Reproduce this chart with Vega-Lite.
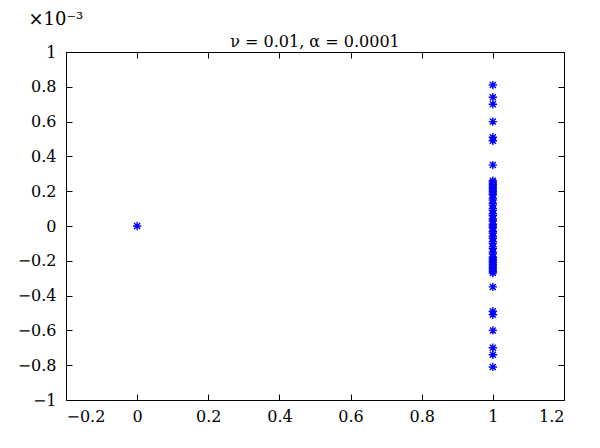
{
  "$schema": "https://vega.github.io/schema/vega-lite/v6.json",
  "width": 498,
  "height": 348,
  "autosize": "none",
  "padding": {"left": 66, "top": 52, "right": 36, "bottom": 48},
  "background": "white",
  "config": {
    "view": {"stroke": "black", "strokeWidth": 1},
    "font": "DejaVu Serif",
    "axis": {
      "grid": false,
      "domain": false,
      "tickColor": "black",
      "tickSize": -6,
      "tickWidth": 1,
      "labelFont": "DejaVu Serif",
      "labelFontSize": 16,
      "labelColor": "black"
    }
  },
  "title": {
    "text": "ν = 0.01, α = 0.0001",
    "font": "DejaVu Serif",
    "fontSize": 16,
    "fontWeight": "normal",
    "color": "black",
    "offset": -40
  },
  "data": {
    "values": [
      {"x": 0, "y": 0},
      {"x": 1, "y": 0.00081},
      {"x": 1, "y": 0.00074},
      {"x": 1, "y": 0.0007},
      {"x": 1, "y": 0.0006},
      {"x": 1, "y": 0.00051},
      {"x": 1, "y": 0.00049},
      {"x": 1, "y": 0.00035},
      {"x": 1, "y": 0.00026},
      {"x": 1, "y": 0.00025},
      {"x": 1, "y": 0.00024},
      {"x": 1, "y": 0.00023},
      {"x": 1, "y": 0.00022},
      {"x": 1, "y": 0.00021},
      {"x": 1, "y": 0.0002},
      {"x": 1, "y": 0.00019},
      {"x": 1, "y": 0.00018},
      {"x": 1, "y": 0.00016},
      {"x": 1, "y": 0.00015},
      {"x": 1, "y": 0.00013},
      {"x": 1, "y": 0.00012},
      {"x": 1, "y": 0.0001},
      {"x": 1, "y": 0.00009},
      {"x": 1, "y": 0.00007},
      {"x": 1, "y": 0.00006},
      {"x": 1, "y": 0.00004},
      {"x": 1, "y": 0.00003},
      {"x": 1, "y": 0.00001},
      {"x": 1, "y": 0},
      {"x": 1, "y": -0.00001},
      {"x": 1, "y": -0.00003},
      {"x": 1, "y": -0.00004},
      {"x": 1, "y": -0.00006},
      {"x": 1, "y": -0.00007},
      {"x": 1, "y": -0.00009},
      {"x": 1, "y": -0.0001},
      {"x": 1, "y": -0.00012},
      {"x": 1, "y": -0.00013},
      {"x": 1, "y": -0.00015},
      {"x": 1, "y": -0.00016},
      {"x": 1, "y": -0.00018},
      {"x": 1, "y": -0.00019},
      {"x": 1, "y": -0.0002},
      {"x": 1, "y": -0.00021},
      {"x": 1, "y": -0.00022},
      {"x": 1, "y": -0.00023},
      {"x": 1, "y": -0.00024},
      {"x": 1, "y": -0.00025},
      {"x": 1, "y": -0.00026},
      {"x": 1, "y": -0.00027},
      {"x": 1, "y": -0.00035},
      {"x": 1, "y": -0.00049},
      {"x": 1, "y": -0.00051},
      {"x": 1, "y": -0.0006},
      {"x": 1, "y": -0.0007},
      {"x": 1, "y": -0.00074},
      {"x": 1, "y": -0.00081}
    ]
  },
  "layer": [
    {
      "mark": {"type": "point", "opacity": 0},
      "encoding": {
        "x": {"field": "x", "type": "quantitative", "scale": {"domain": [-0.2, 1.2], "nice": false, "zero": false},
          "axis": {"orient": "top", "title": null, "labels": false, "values": [-0.2, 0, 0.2, 0.4, 0.6, 0.8, 1, 1.2]}},
        "y": {"field": "y", "type": "quantitative", "scale": {"domain": [-0.001, 0.001], "nice": false, "zero": false},
          "axis": {"orient": "right", "title": null, "labels": false, "values": [-0.001, -0.0008, -0.0006, -0.0004, -0.0002, 0, 0.0002, 0.0004, 0.0006, 0.0008, 0.001]}}
      }
    },
    {
      "mark": {
        "type": "point",
        "shape": "M0,-1L0,1M-1,0L1,0M-0.72,-0.72L0.72,0.72M-0.72,0.72L0.72,-0.72",
        "filled": false,
        "stroke": "#0000ff",
        "strokeWidth": 1.4,
        "size": 70,
        "opacity": 1
      },
      "encoding": {
        "x": {"field": "x", "type": "quantitative", "scale": {"domain": [-0.2, 1.2], "nice": false, "zero": false},
          "axis": {"orient": "bottom", "title": null, "labelPadding": 14, "labelExpr": "format(datum.value, '.1~f')", "values": [-0.2, 0, 0.2, 0.4, 0.6, 0.8, 1, 1.2]}},
        "y": {"field": "y", "type": "quantitative", "scale": {"domain": [-0.001, 0.001], "nice": false, "zero": false},
          "axis": {"orient": "left", "labelPadding": 16, "labelExpr": "format(datum.value * 1000, '.1~f')", "values": [-0.001, -0.0008, -0.0006, -0.0004, -0.0002, 0, 0.0002, 0.0004, 0.0006, 0.0008, 0.001],
            "title": "×10⁻³", "titleAngle": 0, "titleX": -38, "titleY": -24, "titleAlign": "left", "titleBaseline": "bottom", "titleFont": "DejaVu Serif", "titleFontSize": 18, "titleFontWeight": "normal", "titleColor": "black"}}
      }
    }
  ],
  "resolve": {"axis": {"x": "independent", "y": "independent"}}
}
